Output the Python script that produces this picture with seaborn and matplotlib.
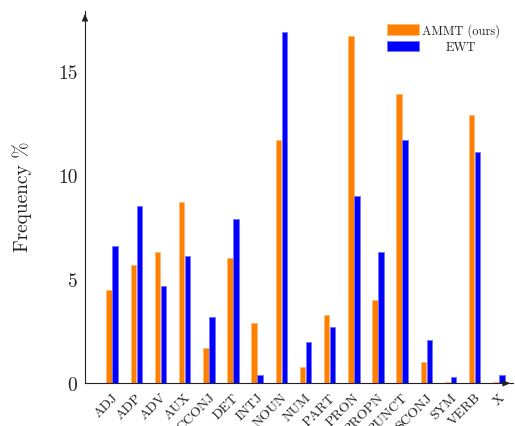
import numpy as np
import pandas as pd
import matplotlib
matplotlib.use("Agg")
import matplotlib.pyplot as plt
import seaborn as sns

# Universal POS tag frequencies (%)
tags = ["ADJ", "ADP", "ADV", "AUX", "CCONJ", "DET", "INTJ", "NOUN", "NUM",
        "PART", "PRON", "PROPN", "PUNCT", "SCONJ", "SYM", "VERB", "X"]
ammt = [4.5, 5.7, 6.3, 8.7, 1.7, 6.0, 2.9, 11.7, 0.8,
        3.3, 16.7, 4.0, 13.9, 1.0, 0.05, 12.9, 0.05]
ewt = [6.6, 8.5, 4.7, 6.1, 3.2, 7.9, 0.4, 16.9, 2.0,
       2.7, 9.0, 6.3, 11.7, 2.1, 0.3, 11.1, 0.4]
series = ["AMMT (ours)", "EWT"]
colors = {"AMMT (ours)": "#FF7F00", "EWT": "#0000FF"}
y_ticks = [0, 5, 10, 15]

df = pd.DataFrame({
    "tag": tags * 2,
    "freq": ammt + ewt,
    "corpus": [series[0]] * len(tags) + [series[1]] * len(tags),
})

sns.set_theme(style="white")
plt.rcParams["font.family"] = ["cmr10", "DejaVu Serif"]
plt.rcParams["axes.formatter.use_mathtext"] = True
plt.rcParams["mathtext.fontset"] = "cm"

fig = plt.figure(figsize=(5.15, 4.27), dpi=100)
ax = fig.add_axes([0.165, 0.10, 0.831, 0.872])

sns.barplot(data=df, x="tag", y="freq", hue="corpus", order=tags,
            hue_order=series, palette=colors, saturation=1, width=0.5,
            gap=0.08, ax=ax, legend=True)

for bar in ax.patches:
    fc = bar.get_facecolor()
    bar.set_edgecolor((fc[0] * 0.55 + 0.45, fc[1] * 0.55 + 0.45, fc[2] * 0.55 + 0.45))
    bar.set_linewidth(0.6)

# tick marks sit under the first bar of each group; labels hang a little to the right
off = 0.125
pos = np.arange(len(tags))
ax.set_xticks(pos - off)
ax.set_xticklabels([])
ax.set_xticks(pos + 0.165, minor=True)
ax.set_xticklabels(tags, minor=True, rotation=45, ha="right", va="center",
                   rotation_mode="anchor", fontsize=10, color="#222222")
ax.set_xlim(-1 - off, 16.71 - off)
ax.set_ylim(0, 17.9)
ax.set_yticks(y_ticks)
ax.set_yticklabels([str(v) for v in y_ticks], fontsize=14, color="#222222")
ax.tick_params(axis="y", direction="inout", length=5, width=0.7, color="#333333", pad=3)
ax.tick_params(axis="x", which="major", direction="out", length=3, width=0.7,
               color="#333333")
ax.tick_params(axis="x", which="minor", length=0, pad=8.5)

ax.set_xlabel("")
ax.set_ylabel("Frequency %", fontsize=14, color="#222222")
ax.yaxis.set_label_coords(-0.124, 0.505)

for s in ["top", "right"]:
    ax.spines[s].set_visible(False)
for s in ["left", "bottom"]:
    ax.spines[s].set_color("#222222")
    ax.spines[s].set_linewidth(0.8)

ax.annotate("", xy=(0, 1.0), xytext=(0, 0.97), xycoords="axes fraction",
            arrowprops=dict(arrowstyle="-|>,head_length=0.35,head_width=0.15",
                            color="#222222", lw=0.8), annotation_clip=False)
ax.annotate("", xy=(1.0, 0), xytext=(0.97, 0), xycoords="axes fraction",
            arrowprops=dict(arrowstyle="-|>,head_length=0.35,head_width=0.15",
                            color="#222222", lw=0.8), annotation_clip=False)

leg = ax.legend(loc="upper right", bbox_to_anchor=(0.981, 0.98), frameon=False,
                fontsize=9, handlelength=2.55, handleheight=0.88,
                handletextpad=0.2, labelspacing=0.3, borderaxespad=0)
for t in leg.get_texts():
    t.set_color("#222222")

# centre the shorter legend entry's text under the longer one
fig.canvas.draw()
renderer = fig.canvas.get_renderer()
t_long, t_short = leg.get_texts()
extra_px = (t_long.get_window_extent(renderer).width
            - t_short.get_window_extent(renderer).width) / 2
rows = leg._legend_handle_box.get_children()[0].get_children()
rows[1].sep += extra_px * 72 / fig.dpi

fig.savefig("out.png", dpi=100)
